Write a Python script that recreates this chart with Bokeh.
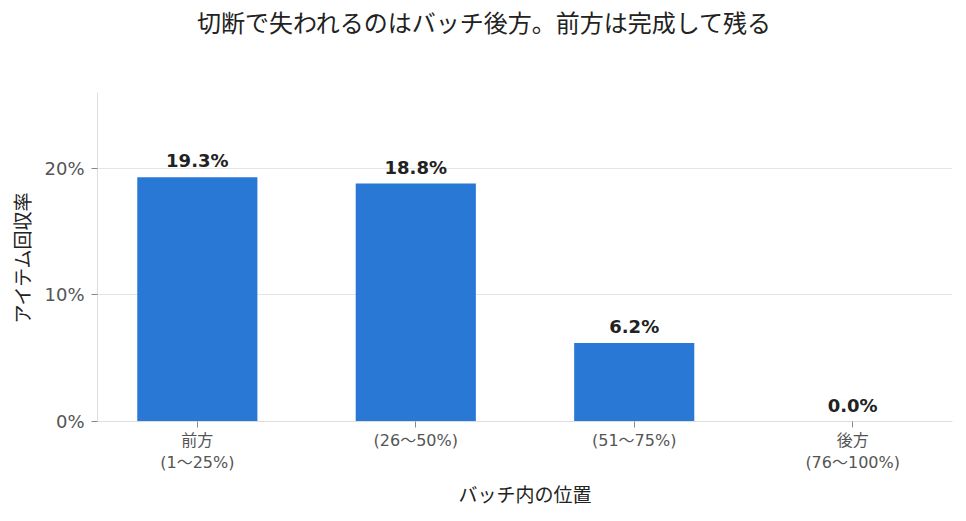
from bokeh.plotting import figure
from bokeh.models import ColumnDataSource, FixedTicker, Range1d, NumeralTickFormatter, LabelSet, Div
from bokeh.layouts import column
from bokeh.core.properties import value
from bokeh.embed import file_html
from bokeh.resources import INLINE

title_text = "切断で失われるのはバッチ後方。前方は完成して残る"
categories = ["前方\n(1〜25%)", "(26〜50%)", "(51〜75%)", "後方\n(76〜100%)"]
rates = [0.193, 0.188, 0.062, 0.000]
rate_labels = ["19.3%", "18.8%", "6.2%", "0.0%"]
y_ticks = [0.0, 0.1, 0.2]

xs = list(range(len(categories)))
src = ColumnDataSource(dict(x=xs, top=rates, lab=rate_labels))

title = Div(text=title_text, width=958, height=34,
            styles={"font-family": "'Noto Sans CJK JP'", "font-size": "24px",
                    "color": "#222222", "text-align": "center", "line-height": "34px",
                    "white-space": "nowrap"})

p = figure(width=958, height=469, output_backend="svg", toolbar_location=None,
           x_range=Range1d(-0.457, 3.457), y_range=Range1d(0, 0.26),
           min_border_left=97, min_border_right=6, min_border_top=48, min_border_bottom=92)

p.vbar(x="x", top="top", width=0.55, source=src, color="#2a78d6", line_color=None)

labels = LabelSet(x="x", y="top", text="lab", source=src, text_align="center",
                  text_baseline="alphabetic", y_offset=10, text_font=value("DejaVu Sans"),
                  text_font_size="18px", text_font_style="bold", text_color="#222222")
p.add_layout(labels)

p.xaxis.ticker = FixedTicker(ticks=xs)
p.xaxis.major_label_overrides = {i: c for i, c in enumerate(categories)}
p.xaxis.major_label_text_font = "DejaVu Sans, Noto Sans CJK JP"
p.xaxis.major_label_text_font_size = "16px"
p.xaxis.major_label_text_color = "#555555"
p.xaxis.major_label_standoff = 3
p.xaxis.axis_label = "バッチ内の位置"
p.xaxis.axis_label_text_font = "Noto Sans CJK JP"
p.xaxis.axis_label_text_font_size = "19px"
p.xaxis.axis_label_text_font_style = "normal"
p.xaxis.axis_label_text_color = "#222222"
p.xaxis.axis_label_standoff = 5
p.xaxis.axis_line_color = "#dddddd"
p.xaxis.major_tick_line_color = "#888888"
p.xaxis.minor_tick_line_color = None
p.xaxis.major_tick_out = 6
p.xaxis.major_tick_in = 0

p.yaxis.ticker = FixedTicker(ticks=y_ticks)
p.yaxis.formatter = NumeralTickFormatter(format="0%")
p.yaxis.major_label_text_font = "DejaVu Sans"
p.yaxis.major_label_text_font_size = "18px"
p.yaxis.major_label_text_color = "#555555"
p.yaxis.major_label_standoff = 7
p.yaxis.axis_label = "アイテム回収率"
p.yaxis.axis_label_text_font = "Noto Sans CJK JP"
p.yaxis.axis_label_text_font_size = "19px"
p.yaxis.axis_label_text_font_style = "normal"
p.yaxis.axis_label_text_color = "#222222"
p.yaxis.axis_label_standoff = 6
p.yaxis.axis_line_color = "#dddddd"
p.yaxis.major_tick_line_color = "#888888"
p.yaxis.minor_tick_line_color = None
p.yaxis.major_tick_out = 6
p.yaxis.major_tick_in = 0

p.xgrid.grid_line_color = None
p.ygrid.grid_line_color = "#e5e5e5"
p.outline_line_color = None

layout = column(title, p, spacing=0)
open("out.html", "w").write(file_html(layout, INLINE))
